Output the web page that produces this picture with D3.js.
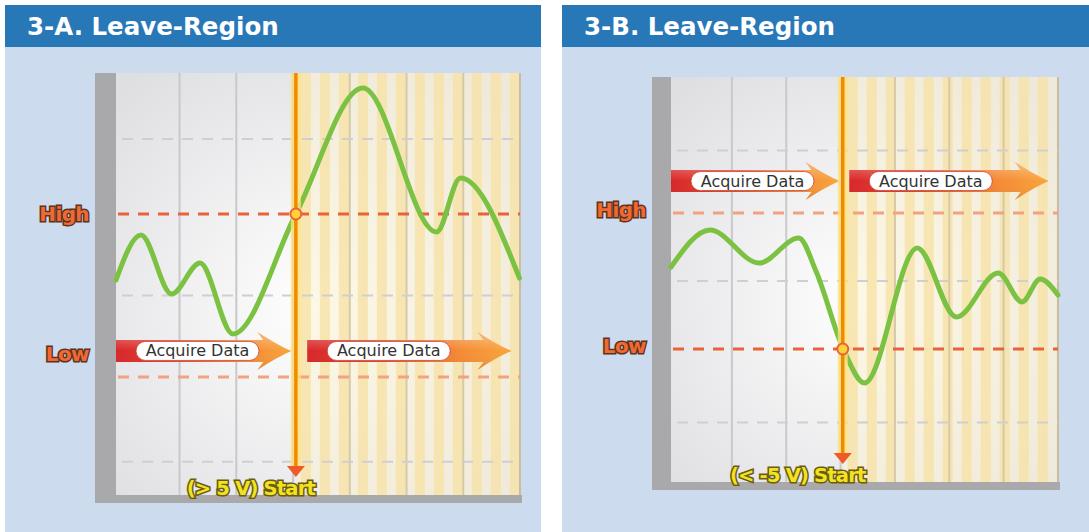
<!DOCTYPE html>
<html>
<head>
<meta charset="utf-8">
<script src="https://cdn.jsdelivr.net/npm/d3@7"></script>
<style>
  body { margin: 0; background: #fff; }
  svg { display: block; }
</style>
</head>
<body>
<div id="chart"></div>
<script>
// ---- data (time in divisions, level in volts) ----
const panelTitles = ["3-A. Leave-Region", "3-B. Leave-Region"];
const divisions = [1, 2, 3, 4, 5, 6];
const thresholdNames = ["High", "Low"];
const thresholdVolts = [5, -5];
const triggerEdges = ["High", "Low"];
const triggerTimes = [3.05, 3.04];
const startLabels = ["(> 5 V) Start", "(< -5 V) Start"];
const acquireLabel = "Acquire Data";
const acquireSpansA = [[-0.12, 2.97], [3.25, 6.85]];
const acquireSpansB = [[-0.12, 2.98], [3.16, 6.83]];
const acquireVolts = [-3.4, 7.35];
const refLinesA = [9.6, 0, -10.2];
const refLinesB = [9.6, 0, -10.4];
const labelVoltsA = [5, -3.6];
const labelVoltsB = [5.2, -4.8];

const waveA = [
  [-0.12, 0.95], [0.32, 3.71], [0.86, 0.09], [1.36, 1.99], [1.94, -2.36],
  [3.05, 5.0], [4.23, 12.73], [5.53, 3.9], [5.95, 7.21], [6.99, 1.07]
];
const waveB = [
  [-0.12, 1.03], [0.6, 3.75], [1.5, 1.32], [2.23, 3.16], [2.55, 0.7],
  [3.05, -5.0], [3.44, -7.5], [4.41, 2.43], [5.13, -2.65], [5.9, 0.59],
  [6.34, -1.54], [6.67, 0.15], [7.0, -1.03]
];

const W = 1089, H = 532;

const svg = d3.select('#chart').append('svg')
  .attr('width', W)
  .attr('height', H);

const defs = svg.append('defs');

const bg = defs.append('radialGradient').attr('id', 'plotBg')
  .attr('cx', '0.5').attr('cy', '0.55').attr('r', '0.7');
bg.append('stop').attr('offset', '0%').attr('stop-color', '#ffffff');
bg.append('stop').attr('offset', '100%').attr('stop-color', '#dfdfe2');

const arrowGrad = defs.append('linearGradient').attr('id', 'arrowFill')
  .attr('x1', '0').attr('x2', '1').attr('y1', '0').attr('y2', '0');
arrowGrad.append('stop').attr('offset', '0%').attr('stop-color', '#d8262a');
arrowGrad.append('stop').attr('offset', '35%').attr('stop-color', '#e4472b');
arrowGrad.append('stop').attr('offset', '75%').attr('stop-color', '#f48a35');
arrowGrad.append('stop').attr('offset', '100%').attr('stop-color', '#f8a53c');

const gloss = defs.append('linearGradient').attr('id', 'arrowGloss')
  .attr('x1', '0').attr('x2', '0').attr('y1', '0').attr('y2', '1');
gloss.append('stop').attr('offset', '0%').attr('stop-color', '#fff').attr('stop-opacity', 0.35);
gloss.append('stop').attr('offset', '50%').attr('stop-color', '#fff').attr('stop-opacity', 0);
gloss.append('stop').attr('offset', '100%').attr('stop-color', '#000').attr('stop-opacity', 0.08);

class triggerPanel {
  constructor(root, cfg) {
    this.root = root;
    this.cfg = cfg;
    this.draw();
  }

  draw() {
    const c = this.cfg;
    const g = this.root.append('g');

    // panel + title bar
    g.append('rect')
      .attr('x', c.px).attr('y', 5)
      .attr('width', c.pw).attr('height', H - 5)
      .attr('fill', '#cddbee');
    g.append('rect')
      .attr('x', c.px).attr('y', 5)
      .attr('width', c.pw).attr('height', 42)
      .attr('fill', '#2878b8');
    g.append('text')
      .attr('x', c.px + 22).attr('y', 35)
      .attr('fill', '#fff')
      .attr('font-family', 'DejaVu Sans, sans-serif')
      .attr('font-weight', 'bold')
      .attr('font-size', 24.5)
      .text(c.title);

    this.x = d3.scaleLinear().domain([-0.12, 7]).range([c.left, c.right]);
    this.y = d3.scaleLinear().domain([-5, 5]).range(c.yRange);
    const x = this.x, y = this.y;
    const xt = x(c.trigger);

    // plot background
    g.append('rect')
      .attr('x', c.left).attr('y', c.top)
      .attr('width', c.right - c.left).attr('height', c.bottom - c.top)
      .attr('fill', 'url(#plotBg)');

    // yellow stripes after the trigger
    g.append('rect')
      .attr('x', xt).attr('y', c.top)
      .attr('width', c.right - xt).attr('height', c.bottom - c.top)
      .attr('fill', '#fbf0d2').attr('opacity', 0.55);
    g.selectAll('.stripe')
      .data(d3.range(xt + 5, c.right, 19))
      .enter().append('rect')
      .attr('class', 'stripe')
      .attr('x', d => d).attr('y', c.top)
      .attr('width', d => Math.min(10, c.right - d)).attr('height', c.bottom - c.top)
      .attr('fill', '#f6e2a6').attr('opacity', 0.8);

    // vertical division lines
    g.selectAll('.vgrid')
      .data(divisions)
      .enter().append('line')
      .attr('class', 'vgrid')
      .attr('x1', d => x(d)).attr('x2', d => x(d))
      .attr('y1', c.top).attr('y2', c.bottom)
      .attr('stroke', d => x(d) > xt ? '#d6c9a8' : '#c9c9cc')
      .attr('stroke-width', 2);
    g.append('line')
      .attr('x1', c.right).attr('x2', c.right)
      .attr('y1', c.top).attr('y2', c.bottom)
      .attr('stroke', '#c8bda0').attr('stroke-width', 2);

    // gray reference lines
    g.selectAll('.ref')
      .data(c.refLines)
      .enter().append('line')
      .attr('class', 'ref')
      .attr('x1', c.left + 6).attr('x2', c.right)
      .attr('y1', d => y(d)).attr('y2', d => y(d))
      .attr('stroke', '#cfcfd2')
      .attr('stroke-width', 2)
      .attr('stroke-dasharray', '11 9');

    // thresholds
    g.selectAll('.thr')
      .data(thresholdNames)
      .enter().append('line')
      .attr('class', 'thr')
      .attr('x1', c.left + 2).attr('x2', c.right)
      .attr('y1', (d, i) => y(thresholdVolts[i])).attr('y2', (d, i) => y(thresholdVolts[i]))
      .attr('stroke', d => d === c.edge ? '#e8623a' : '#f2a27e')
      .attr('stroke-width', 3)
      .attr('stroke-dasharray', '11 9');

    // frame bars
    g.append('rect')
      .attr('x', c.barLeft).attr('y', c.top)
      .attr('width', c.left - c.barLeft).attr('height', c.bottom - c.top + 8)
      .attr('fill', '#a9a9ab');
    g.append('rect')
      .attr('x', c.barLeft).attr('y', c.bottom)
      .attr('width', c.right - c.barLeft + 2).attr('height', 8)
      .attr('fill', '#a9a9ab');

    // acquire arrows
    const ay = y(c.acquireVolts);
    const arrows = g.selectAll('.acq')
      .data(c.spans)
      .enter().append('g')
      .attr('class', 'acq');
    const arrowPath = d => {
      const x0 = x(d[0]), x1 = x(d[1]);
      const hx = x1 - 28;
      return `M${x0},${ay - 11} L${hx},${ay - 11} L${hx - 6},${ay - 19}` +
        ` Q${hx + 14},${ay - 6} ${x1},${ay}` +
        ` Q${hx + 14},${ay + 6} ${hx - 6},${ay + 19}` +
        ` L${hx},${ay + 11} L${x0},${ay + 11} Z`;
    };
    arrows.append('path').attr('d', arrowPath).attr('fill', 'url(#arrowFill)');
    arrows.append('path').attr('d', arrowPath).attr('fill', 'url(#arrowGloss)');
    arrows.append('rect')
      .attr('x', d => x(d[0]) + 20).attr('y', ay - 9.5)
      .attr('width', 123).attr('height', 19)
      .attr('rx', 9.5)
      .attr('fill', '#fff')
      .attr('stroke', '#c9443a').attr('stroke-width', 0.8);
    arrows.append('text')
      .attr('x', d => x(d[0]) + 81.5).attr('y', ay + 5.5)
      .attr('text-anchor', 'middle')
      .attr('font-family', 'DejaVu Sans, sans-serif')
      .attr('font-size', 16)
      .attr('fill', '#333')
      .text(acquireLabel);

    // signal
    const line = d3.line()
      .x(d => x(d[0])).y(d => y(d[1]))
      .curve(d3.curveMonotoneX);
    g.append('path')
      .datum(c.wave)
      .attr('d', line)
      .attr('fill', 'none')
      .attr('stroke', '#7cc242')
      .attr('stroke-width', 5)
      .attr('stroke-linejoin', 'round')
      .attr('stroke-linecap', 'round');

    // trigger line
    const tipY = c.bottom - 18;
    g.append('line')
      .attr('x1', xt).attr('x2', xt)
      .attr('y1', c.top).attr('y2', tipY - 10)
      .attr('stroke', '#ffe27a').attr('stroke-width', 10).attr('opacity', 0.8);
    g.append('line')
      .attr('x1', xt).attr('x2', xt)
      .attr('y1', c.top).attr('y2', tipY - 10)
      .attr('stroke', '#f08a00').attr('stroke-width', 3.5);
    g.append('path')
      .attr('d', `M${xt - 9},${tipY - 11} L${xt + 9},${tipY - 11} L${xt},${tipY} Z`)
      .attr('fill', '#ef5a28');

    const trigV = thresholdVolts[thresholdNames.indexOf(c.edge)];
    g.append('circle')
      .attr('cx', xt).attr('cy', y(trigV))
      .attr('r', 5.5)
      .attr('fill', '#ffd23a')
      .attr('stroke', '#e8623a').attr('stroke-width', 2);

    // threshold labels
    g.selectAll('.thrLabel')
      .data(thresholdNames)
      .enter().append('text')
      .attr('class', 'thrLabel')
      .attr('x', c.barLeft - 6)
      .attr('y', (d, i) => y(c.labelVolts[i]) + 7)
      .attr('text-anchor', 'end')
      .attr('font-family', 'DejaVu Sans, sans-serif')
      .attr('font-weight', 'bold')
      .attr('font-size', 20)
      .attr('letter-spacing', -0.6)
      .attr('fill', '#ef6a32')
      .attr('stroke', '#5e3220').attr('stroke-width', 3)
      .attr('paint-order', 'stroke')
      .text(d => d);

    // start label
    g.append('text')
      .attr('x', xt - 45).attr('y', tipY + 18)
      .attr('text-anchor', 'middle')
      .attr('font-family', 'DejaVu Sans, sans-serif')
      .attr('font-weight', 'bold')
      .attr('font-size', 19.5)
      .attr('letter-spacing', -0.8)
      .attr('fill', '#f2e320')
      .attr('stroke', '#6a5c12').attr('stroke-width', 3.2)
      .attr('paint-order', 'stroke')
      .text(c.start);
  }
}

new triggerPanel(svg, {
  title: panelTitles[0], px: 5, pw: 536,
  left: 116, right: 520, top: 73, bottom: 495, barLeft: 95,
  yRange: [377, 214],
  trigger: triggerTimes[0], edge: triggerEdges[0],
  wave: waveA, refLines: refLinesA, labelVolts: labelVoltsA,
  spans: acquireSpansA, acquireVolts: acquireVolts[0], start: startLabels[0]
});

new triggerPanel(svg, {
  title: panelTitles[1], px: 562, pw: 527,
  left: 671, right: 1058, top: 77, bottom: 482, barLeft: 652,
  yRange: [349, 213],
  trigger: triggerTimes[1], edge: triggerEdges[1],
  wave: waveB, refLines: refLinesB, labelVolts: labelVoltsB,
  spans: acquireSpansB, acquireVolts: acquireVolts[1], start: startLabels[1]
});
</script>
</body>
</html>
